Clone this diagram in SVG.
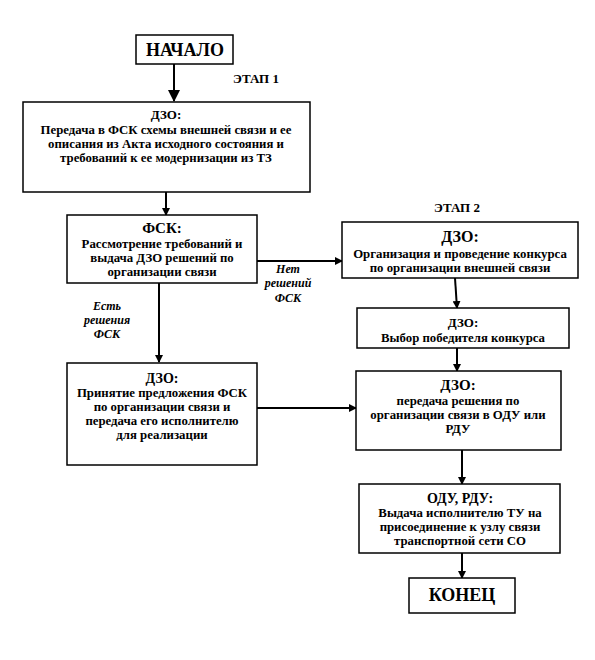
<svg xmlns="http://www.w3.org/2000/svg" width="595" height="660" viewBox="0 0 595 660" font-family="Liberation Serif, serif">
<style>
.box{fill:#fff;stroke:#000;stroke-width:1.5}
text{font-weight:bold;fill:#000;text-anchor:middle}
.b{font-size:12.8px}
.h{font-size:15px}
.big{font-size:18px}
.lbl{font-size:12px;font-style:italic}
.con{stroke:#000;stroke-width:2;fill:none}
</style>
<defs>
<marker id="ah" markerWidth="8" markerHeight="8" refX="7" refY="4" orient="auto" markerUnits="userSpaceOnUse">
<path d="M0,0 L8,4 L0,8 Z" fill="#000"/>
</marker>
<marker id="ahb" markerWidth="12" markerHeight="12" refX="11" refY="6" orient="auto" markerUnits="userSpaceOnUse">
<path d="M0,0 L12,6 L0,12 Z" fill="#000"/>
</marker>
</defs>
<rect width="595" height="660" fill="#fff"/>
<g id="connectors">
<line class="con" x1="174" y1="64" x2="174" y2="101" stroke-width="4" marker-end="url(#ahb)"/>
<line class="con" x1="166" y1="192" x2="166" y2="215" marker-end="url(#ah)"/>
<line class="con" x1="159" y1="283" x2="159" y2="362" marker-end="url(#ah)"/>
<line class="con" x1="257" y1="261" x2="342" y2="261" marker-end="url(#ah)"/>
<line class="con" x1="257" y1="408" x2="356" y2="408" marker-end="url(#ah)"/>
<line class="con" x1="455" y1="278" x2="457" y2="308" marker-end="url(#ah)"/>
<line class="con" x1="457" y1="348" x2="457" y2="371" marker-end="url(#ah)"/>
<line class="con" x1="462" y1="450" x2="462" y2="484" marker-end="url(#ah)"/>
<line class="con" x1="462" y1="553" x2="462" y2="578" marker-end="url(#ah)"/>
</g>
<g id="labels">
<text x="256" y="83" font-size="13">ЭТАП 1</text>
<text x="457" y="212" font-size="13">ЭТАП 2</text>
<text class="lbl" x="288" y="273">Нет</text>
<text class="lbl" x="288" y="287">решений</text>
<text class="lbl" x="288" y="302">ФСК</text>
<text class="lbl" x="107" y="310">Есть</text>
<text class="lbl" x="107" y="324">решения</text>
<text class="lbl" x="107" y="338">ФСК</text>
</g>
<g id="start">
<rect class="box" x="136" y="35" width="97" height="29"/>
<text class="big" x="185" y="56">НАЧАЛО</text>
</g>
<g id="dzo1">
<rect class="box" x="23" y="102" width="287" height="90"/>
<text x="166" y="119" font-size="13">ДЗО:</text>
<text class="b" x="166" y="134">Передача в ФСК схемы внешней связи и ее</text>
<text class="b" x="166" y="148">описания из Акта исходного состояния и</text>
<text class="b" x="166" y="162">требований к ее модернизации из ТЗ</text>
</g>
<g id="fsk">
<rect class="box" x="67" y="215" width="190" height="68"/>
<text class="h" x="162" y="233">ФСК:</text>
<text class="b" x="162" y="248">Рассмотрение требований и</text>
<text class="b" x="162" y="262">выдача ДЗО решений по</text>
<text class="b" x="162" y="276">организации связи</text>
</g>
<g id="dzo3">
<rect class="box" x="67" y="363" width="190" height="102"/>
<text x="162" y="383" font-size="14">ДЗО:</text>
<text class="b" x="162" y="397">Принятие предложения ФСК</text>
<text class="b" x="162" y="411">по организации связи и</text>
<text class="b" x="162" y="425">передача его исполнителю</text>
<text class="b" x="162" y="439">для реализации</text>
</g>
<g id="dzo2">
<rect class="box" x="342" y="222" width="236" height="56"/>
<text x="460" y="242" font-size="16">ДЗО:</text>
<text class="b" x="460" y="258">Организация и проведение конкурса</text>
<text class="b" x="460" y="272">по организации внешней связи</text>
</g>
<g id="dzo4">
<rect class="box" x="357" y="308" width="212" height="40"/>
<text x="463" y="327" font-size="13">ДЗО:</text>
<text class="b" x="463" y="342">Выбор победителя конкурса</text>
</g>
<g id="dzo5">
<rect class="box" x="356" y="371" width="205" height="79"/>
<text class="h" x="458" y="390">ДЗО:</text>
<text class="b" x="458" y="405">передача решения по</text>
<text class="b" x="458" y="419">организации связи в ОДУ или</text>
<text class="b" x="458" y="433">РДУ</text>
</g>
<g id="odu">
<rect class="box" x="359" y="484" width="201" height="69"/>
<text x="460" y="503" font-size="14">ОДУ, РДУ:</text>
<text class="b" x="460" y="517">Выдача исполнителю ТУ на</text>
<text class="b" x="460" y="531">присоединение к узлу связи</text>
<text class="b" x="460" y="545">транспортной сети СО</text>
</g>
<g id="end">
<rect class="box" x="409" y="578" width="106" height="35"/>
<text class="big" x="462" y="601">КОНЕЦ</text>
</g>
</svg>
